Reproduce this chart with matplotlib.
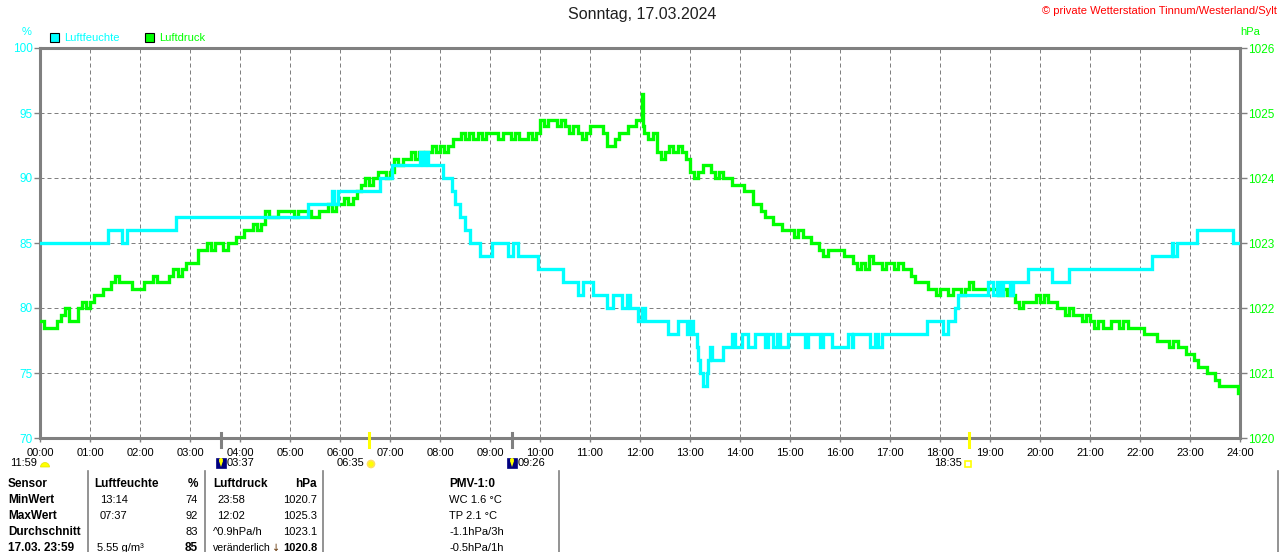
import matplotlib
matplotlib.use("Agg")
import matplotlib.pyplot as plt
from matplotlib.patches import Rectangle, Circle, Wedge, Polygon
from matplotlib.lines import Line2D
import matplotlib.transforms as mtransforms

W, H = 1280, 552
CYAN = "#00FFFF"
GREEN = "#00FF00"
GRAY = "#808080"

# ---------------- data ----------------
title = "Sonntag, 17.03.2024"
copyright_txt = "\u00a9 private Wetterstation Tinnum/Westerland/Sylt"
series_names = ["Luftfeuchte", "Luftdruck"]
hour_labels = [f"{h:02d}:00" for h in range(25)]
hum_ticks = [70, 75, 80, 85, 90, 95, 100]
press_ticks = [1020, 1021, 1022, 1023, 1024, 1025, 1026]

# humidity (%) - change points (minute of day, value)
hum_min = [0, 82, 98, 104, 163, 322, 350, 353, 358, 408, 422, 456, 459, 462, 466,
           484, 494, 498, 504, 510, 516, 528, 542, 562, 568, 574, 598, 627, 646, 651,
           663, 680, 688, 698, 704, 708, 718, 722, 726, 754, 766, 776, 780, 784, 788,
           790, 792, 795, 800, 802, 804, 806, 820, 830, 834, 842, 850, 858, 870, 874,
           880, 884, 888, 898, 918, 922, 936, 940, 950, 970, 974, 976, 996, 1002, 1006,
           1010, 1064, 1084, 1090, 1098, 1102, 1138, 1144, 1148, 1152, 1156, 1164, 1168, 1186, 1214,
           1235, 1334, 1358, 1360, 1364, 1388, 1432, 1440]
hum_val = [85, 86, 85, 86, 87, 88, 89, 88, 89, 90, 91, 92, 91, 92, 91,
           90, 89, 88, 87, 86, 85, 84, 85, 84, 85, 84, 83, 82, 81, 82,
           81, 80, 81, 80, 81, 80, 79, 80, 79, 78, 79, 78, 79, 78, 77,
           76, 75, 74, 75, 76, 77, 76, 77, 78, 77, 78, 77, 78, 77, 78,
           77, 78, 77, 78, 77, 78, 77, 78, 77, 78, 77, 78, 77, 78, 77,
           78, 79, 78, 79, 80, 81, 82, 81, 82, 81, 82, 81, 82, 83, 82,
           83, 84, 85, 84, 85, 86, 85, 85]

# air pressure (hPa) every 5 minutes, 00:00 ... 24:00
press_5min = [
    1021.8, 1021.7, 1021.7, 1021.7, 1021.8, 1021.9, 1022.0, 1021.8, 1021.8, 1022.0, 1022.1, 1022.0,
    1022.1, 1022.2, 1022.2, 1022.3, 1022.3, 1022.4, 1022.5, 1022.4, 1022.4, 1022.4, 1022.3, 1022.3,
    1022.3, 1022.4, 1022.4, 1022.5, 1022.4, 1022.4, 1022.4, 1022.5, 1022.6, 1022.5, 1022.6, 1022.7,
    1022.7, 1022.7, 1022.9, 1022.9, 1023.0, 1022.9, 1023.0, 1023.0, 1022.9, 1023.0, 1023.0, 1023.1,
    1023.1, 1023.2, 1023.2, 1023.3, 1023.2, 1023.3, 1023.5, 1023.4, 1023.4, 1023.5, 1023.5, 1023.5,
    1023.5, 1023.4, 1023.5, 1023.5, 1023.5, 1023.4, 1023.4, 1023.5, 1023.5, 1023.6, 1023.5, 1023.6,
    1023.6, 1023.7, 1023.6, 1023.7, 1023.8, 1023.9, 1024.0, 1023.9, 1024.0, 1024.1, 1024.1, 1024.0,
    1024.1, 1024.3, 1024.2, 1024.3, 1024.3, 1024.4, 1024.3, 1024.4, 1024.4, 1024.4, 1024.5, 1024.4,
    1024.5, 1024.4, 1024.5, 1024.6, 1024.6, 1024.7, 1024.6, 1024.7, 1024.6, 1024.7, 1024.6, 1024.7,
    1024.7, 1024.7, 1024.6, 1024.7, 1024.7, 1024.6, 1024.7, 1024.6, 1024.6, 1024.7, 1024.6, 1024.7,
    1024.9, 1024.8, 1024.9, 1024.9, 1024.8, 1024.9, 1024.8, 1024.7, 1024.8, 1024.7, 1024.6, 1024.7,
    1024.8, 1024.8, 1024.8, 1024.7, 1024.5, 1024.5, 1024.6, 1024.7, 1024.7, 1024.8, 1024.8, 1024.9,
    1024.9, 1024.7, 1024.6, 1024.7, 1024.4, 1024.3, 1024.4, 1024.5, 1024.4, 1024.5, 1024.4, 1024.3,
    1024.1, 1024.0, 1024.1, 1024.2, 1024.2, 1024.1, 1024.0, 1024.1, 1024.0, 1024.0, 1023.9, 1023.9,
    1023.9, 1023.8, 1023.8, 1023.6, 1023.6, 1023.5, 1023.4, 1023.4, 1023.3, 1023.3, 1023.2, 1023.2,
    1023.2, 1023.1, 1023.2, 1023.1, 1023.1, 1023.0, 1023.0, 1022.9, 1022.8, 1022.9, 1022.9, 1022.9,
    1022.9, 1022.8, 1022.8, 1022.7, 1022.6, 1022.7, 1022.6, 1022.8, 1022.7, 1022.7, 1022.6, 1022.7,
    1022.7, 1022.6, 1022.7, 1022.6, 1022.6, 1022.5, 1022.4, 1022.4, 1022.4, 1022.3, 1022.3, 1022.2,
    1022.3, 1022.3, 1022.2, 1022.3, 1022.3, 1022.2, 1022.3, 1022.4, 1022.3, 1022.3, 1022.3, 1022.3,
    1022.3, 1022.3, 1022.2, 1022.3, 1022.2, 1022.2, 1022.1, 1022.0, 1022.1, 1022.1, 1022.1, 1022.2,
    1022.1, 1022.2, 1022.1, 1022.1, 1022.0, 1022.0, 1021.9, 1022.0, 1021.9, 1021.9, 1021.8, 1021.9,
    1021.8, 1021.7, 1021.8, 1021.7, 1021.7, 1021.8, 1021.8, 1021.7, 1021.8, 1021.7, 1021.7, 1021.7,
    1021.7, 1021.6, 1021.6, 1021.6, 1021.5, 1021.5, 1021.5, 1021.4, 1021.5, 1021.4, 1021.4, 1021.3,
    1021.3, 1021.2, 1021.1, 1021.1, 1021.0, 1021.0, 1020.9, 1020.8, 1020.8, 1020.8, 1020.8, 1020.8,
    1020.7,
]
press_extra_min = [722, 723, 1438]
press_extra_val = [1025.3, 1024.8, 1020.7]

# astronomical events below the time axis
event_labels = ["03:37", "06:35", "09:26", "18:35"]
event_colors = [GRAY, "#FFFF00", GRAY, "#FFFF00"]

# summary table
tbl_rows = ["Sensor", "MinWert", "MaxWert", "Durchschnitt", "17.03. 23:59"]
hum_col_time = ["13:14", "07:37", "", "5.55 g/m\u00b3"]
hum_col_val = ["74", "92", "83", "85"]
press_col_time = ["23:58", "12:02", "^0.9hPa/h", "ver\u00e4nderlich"]
press_col_val = ["1020.7", "1025.3", "1023.1", "1020.8"]
pmv_col = ["WC 1.6 \u00b0C", "TP 2.1 \u00b0C", "-1.1hPa/3h", "-0.5hPa/1h"]

# ---------------- figure ----------------
plt.rcParams["font.family"] = ["Liberation Sans", "DejaVu Sans"]
fig = plt.figure(figsize=(W / 100, H / 100), dpi=100)
fig.patch.set_facecolor("white")

def fx(x):
    return x / W

def fy(y):
    return 1 - y / H

ax = fig.add_axes([fx(40), fy(438), 1200 / W, 390 / H])  # pressure axes (bottom)
ax2 = ax.twinx()                                          # humidity axes (top)

# pressure on ax (right ticks)
pt = [m for m in range(0, 1441, 5)]
pairs = sorted(list(zip(pt, press_5min)) + list(zip(press_extra_min, press_extra_val)))
ph = [p[0] / 60 for p in pairs]
pv = [p[1] for p in pairs]
ax.plot(ph, pv, color=GREEN, lw=2.4, drawstyle="steps-post", solid_joinstyle="miter", zorder=3)
ax.set_xlim(0, 24)
ax.set_ylim(1020, 1026)
ax.yaxis.tick_right()
ax.set_yticks(press_ticks)
ax.set_yticklabels([str(t) for t in press_ticks])
ax.tick_params(axis="y", colors=GRAY, labelcolor=GREEN, length=5, width=1, pad=1, labelsize=8.5)
ax.set_xticks(range(25))
ax.set_xticklabels(hour_labels)
ax.tick_params(axis="x", colors=GRAY, labelcolor="black", length=3, width=1, pad=4, labelsize=8)
ax.grid(True, color=GRAY, linestyle=(0, (4, 3)), linewidth=0.72)
ax.set_axisbelow(True)
for s in ax.spines.values():
    s.set_color(GRAY)
    s.set_linewidth(2.2)

# humidity on ax2 (left ticks)
hh = [m / 60 for m in hum_min]
ax2.plot(hh, hum_val, color=CYAN, lw=2.4, drawstyle="steps-post", solid_joinstyle="miter", zorder=3)
ax2.set_ylim(70, 100)
ax2.yaxis.tick_left()
ax2.set_yticks(hum_ticks)
ax2.set_yticklabels([str(t) for t in hum_ticks])
ax2.tick_params(axis="y", colors=GRAY, labelcolor=CYAN, length=4, width=1, pad=1, labelsize=8.5)
for s in ax2.spines.values():
    s.set_visible(False)

# unit labels
fig.text(fx(27), fy(32), "%", color=CYAN, fontsize=8, ha="center", va="center")
fig.text(fx(1250), fy(32), "hPa", color=GREEN, fontsize=8, ha="center", va="center")

# title & copyright
fig.text(fx(642), fy(15), title, fontsize=11.5, color="#202020", ha="center", va="center")
fig.text(fx(1277), fy(11), copyright_txt, fontsize=8, color="#FF0000", ha="right", va="center")

# legend
leg_x = [50, 145]
leg_c = [CYAN, GREEN]
for x0, c, name in zip(leg_x, leg_c, series_names):
    fig.add_artist(Rectangle((x0, H - 42), 9, 9, transform=None, facecolor=c,
                             edgecolor="black", linewidth=0.8))
    fig.text(fx(x0 + 14), fy(38), name, color=c, fontsize=8, ha="left", va="center")

# event marks on time axis
btrans = mtransforms.blended_transform_factory(ax.transData, ax.transAxes)
for lab, c in zip(event_labels, event_colors):
    hh_, mm_ = lab.split(":")
    t = int(hh_) + int(mm_) / 60
    ax.add_line(Line2D([t, t], [-0.024, 0.012], transform=btrans, color=c, lw=2.2,
                       clip_on=False, zorder=5))

# event texts and icons (below the axis)
fig.text(fx(37), fy(463), "11:59", fontsize=8, ha="right", va="center")
fig.add_artist(Wedge((45, H - 467), 4.5, 0, 180, transform=None, facecolor="#FFFF00",
                     edgecolor="#E0E000", lw=0.5))
# moon icons (navy boxes)
for x0, lab in [(216, event_labels[0]), (507, event_labels[2])]:
    fig.add_artist(Rectangle((x0, H - 468), 10, 10, transform=None, facecolor="#000080",
                             edgecolor="#000080", lw=0.5))
    fig.add_artist(Polygon([(x0 + 3, H - 461), (x0 + 7, H - 461), (x0 + 5, H - 467)],
                           transform=None, closed=True, facecolor="#FFFF00", edgecolor="none"))
    fig.add_artist(Circle((x0 + 5, H - 460), 2, transform=None, facecolor="#FFFF00",
                          edgecolor="none"))
    fig.text(fx(x0 + 11), fy(463), lab, fontsize=8, ha="left", va="center")
# sunrise
fig.text(fx(364), fy(463), event_labels[1], fontsize=8, ha="right", va="center")
fig.add_artist(Circle((371, H - 464), 3.5, transform=None, facecolor="#FFFF00",
                      edgecolor="#FFE060", lw=1.2))
# sunset
fig.text(fx(962), fy(463), event_labels[3], fontsize=8, ha="right", va="center")
fig.add_artist(Rectangle((965, H - 467), 6, 6, transform=None, facecolor="white",
                         edgecolor="#FFFF00", lw=1.2))

# summary table
row_y = [484, 500, 516, 532, 548]
for x in [88, 205, 323, 559, 1278]:
    fig.add_artist(Line2D([x, x], [H - 471, 0], transform=None, color=GRAY, lw=1.2))
for i, r in enumerate(tbl_rows):
    fig.text(fx(8), fy(row_y[i]), r, fontsize=8.5, fontweight="bold", ha="left", va="center")
fig.text(fx(94), fy(row_y[0]), "Luftfeuchte", fontsize=8.5, fontweight="bold", ha="left", va="center")
fig.text(fx(198), fy(row_y[0]), "%", fontsize=8.5, fontweight="bold", ha="right", va="center")
fig.text(fx(213), fy(row_y[0]), "Luftdruck", fontsize=8.5, fontweight="bold", ha="left", va="center")
fig.text(fx(317), fy(row_y[0]), "hPa", fontsize=8.5, fontweight="bold", ha="right", va="center")
fig.text(fx(449), fy(row_y[0]), "PMV-1:0", fontsize=8.5, fontweight="bold", ha="left", va="center")
hum_time_x = [100, 100, 100, 97]
press_time_x = [217, 217, 213, 213]
for i in range(4):
    y = row_y[i + 1]
    last = (i == 3)
    fig.text(fx(hum_time_x[i]), fy(y), hum_col_time[i], fontsize=8, ha="left", va="center")
    fig.text(fx(198), fy(y), hum_col_val[i], fontsize=8.5 if last else 8, ha="right", va="center",
             fontweight="bold" if last else "normal")
    fig.text(fx(press_time_x[i]), fy(y), press_col_time[i], fontsize=7.6 if last else 8,
             ha="left", va="center")
    fig.text(fx(317), fy(y), press_col_val[i], fontsize=8, ha="right", va="center",
             fontweight="bold" if last else "normal")
    fig.text(fx(449), fy(y), pmv_col[i], fontsize=8, ha="left", va="center")
fig.text(fx(276), fy(row_y[4]), "\u2193", fontsize=7, ha="center", va="center",
         color="#603000", family=["DejaVu Sans"])

fig.savefig("out.png", dpi=100)
